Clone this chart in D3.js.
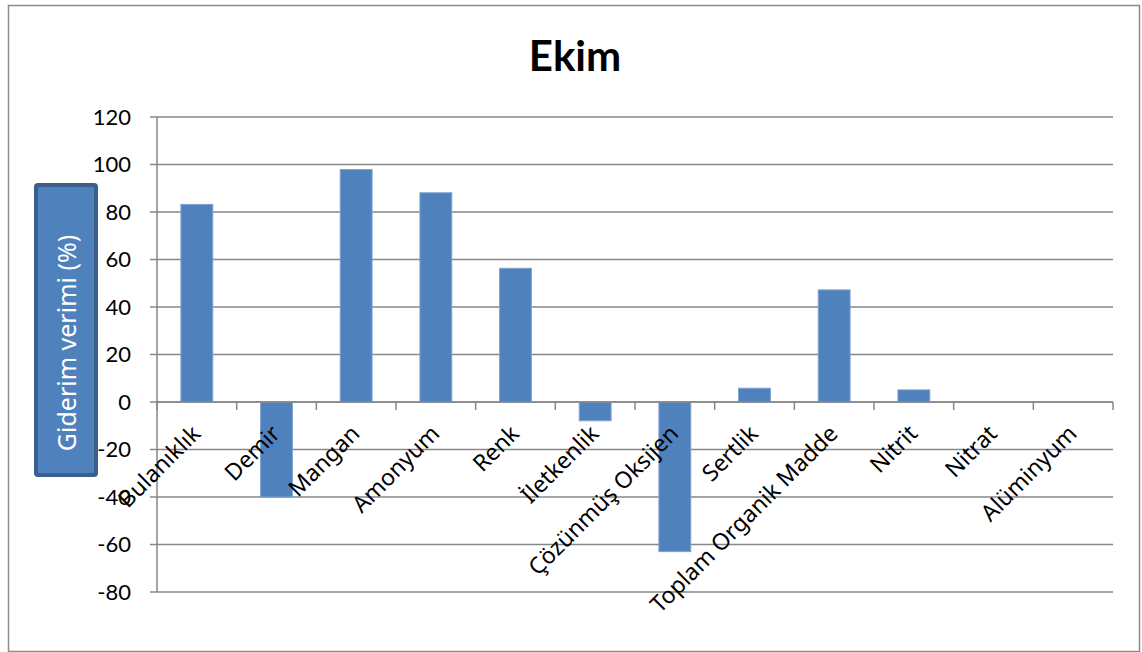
<!DOCTYPE html>
<html><head><meta charset="utf-8">
<script src="https://cdn.jsdelivr.net/npm/d3@7"></script>
<style>html,body{margin:0;padding:0;background:#fff;}svg{display:block;}</style>
</head><body>
<svg id="c" width="1142" height="652"></svg>
<script>
const categories = ["Bulanıklık","Demir","Mangan","Amonyum","Renk","İletkenlik","Çözünmüş Oksijen","Sertlik","Toplam Organik Madde","Nitrit","Nitrat","Alüminyum"];
const values = [83.2, -40, 97.9, 88.1, 56.3, -7.9, -63, 5.8, 47.2, 5.1, 0, 0];
const yTicks = [-80,-60,-40,-20,0,20,40,60,80,100,120];
const chartTitle = "Ekim";
const yLabel = "Giderim verimi (%)";

(function(){
const svg = d3.select("#c");
const pLeft = 157, pRight = 1113, pTop = 117, pBottom = 592;

svg.append("rect").attr("x",8.5).attr("y",5.5).attr("width",1131).attr("height",646)
  .attr("fill","#fff").attr("stroke","#8c8c8c").attr("stroke-width",1.5);

const x = d3.scaleBand().domain(categories).range([pLeft,pRight]).paddingInner(0.6).paddingOuter(0.3);
const y = d3.scaleLinear().domain([-80,120]).range([pBottom,pTop]);

svg.append("g").selectAll("line").data(yTicks).join("line")
  .attr("x1",pLeft-7).attr("x2",pRight).attr("y1",d=>y(d)).attr("y2",d=>y(d))
  .attr("stroke","#878787").attr("stroke-width",1.5);

svg.append("line").attr("x1",pLeft).attr("x2",pLeft).attr("y1",pTop).attr("y2",pBottom)
  .attr("stroke","#878787").attr("stroke-width",1.5);

svg.append("g").selectAll("text").data(yTicks).join("text")
  .attr("x",pLeft-26).attr("y",d=>y(d)).attr("dy","0.36em")
  .attr("text-anchor","end").attr("font-family","Lato, 'Open Sans', sans-serif")
  .attr("font-size",22).attr("fill","#000").text(d=>d);

svg.append("g").selectAll("rect").data(values).join("rect")
  .attr("x",(d,i)=>x(categories[i]))
  .attr("width",x.bandwidth())
  .attr("y",d=>y(Math.max(0,d)))
  .attr("height",d=>Math.abs(y(d)-y(0)))
  .attr("fill","#4F81BD").attr("stroke","#7EA3D1").attr("stroke-width",1);

svg.append("line").attr("x1",pLeft).attr("x2",pRight).attr("y1",y(0)).attr("y2",y(0))
  .attr("stroke","#878787").attr("stroke-width",1.5);
const tickXs = d3.range(categories.length+1).map(i=>pLeft + i*(pRight-pLeft)/categories.length);
svg.append("g").selectAll("line").data(tickXs).join("line")
  .attr("x1",d=>d).attr("x2",d=>d).attr("y1",y(0)).attr("y2",y(0)+8)
  .attr("stroke","#878787").attr("stroke-width",1.5);

svg.append("g").selectAll("text").data(categories).join("text")
  .attr("transform",d=>`translate(${x(d)+x.bandwidth()/2+5},${y(0)+33}) rotate(-45)`)
  .attr("text-anchor","end").attr("font-family","'Noto Sans', 'Open Sans', sans-serif")
  .attr("font-size",23).attr("fill","#000").text(d=>d);

svg.append("text").attr("x",575).attr("y",71).attr("text-anchor","middle")
  .attr("font-family","Lato, 'Open Sans', sans-serif").attr("font-weight","bold")
  .attr("font-size",42).attr("fill","#000").text(chartTitle);

svg.append("rect").attr("x",36).attr("y",185).attr("width",60).attr("height",290)
  .attr("rx",2).attr("fill","#4F81BD").attr("stroke","#3A5F8C").attr("stroke-width",4);
svg.append("text").attr("transform","translate(67,343) rotate(-90)")
  .attr("text-anchor","middle").attr("dy","0.35em")
  .attr("font-family","'Noto Sans', 'Open Sans', sans-serif").attr("font-size",25)
  .attr("fill","#fff").text(yLabel);
})();
</script>
</body></html>
